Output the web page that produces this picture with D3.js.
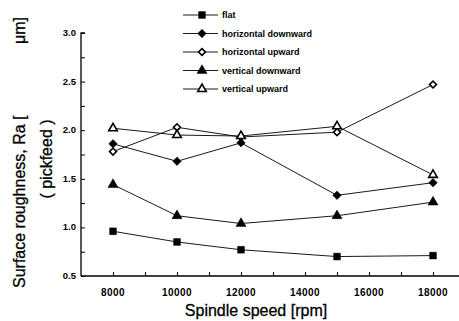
<!DOCTYPE html>
<html>
<head>
<meta charset="utf-8">
<script src="https://cdn.jsdelivr.net/npm/d3@7"></script>
<style>
  body { margin: 0; background: #fff; }
  svg { display: block; font-family: "Liberation Sans", Arial, sans-serif; }
</style>
</head>
<body>
<svg id="chart" width="459" height="321"></svg>
<script>
// spindle speeds (rpm)
const speeds = [8000, 10000, 12000, 15000, 18000];
const xTicks = [8000, 10000, 12000, 14000, 16000, 18000];
const yTicks = [0.5, 1.0, 1.5, 2.0, 2.5, 3.0];

// surface roughness Ra per tool path
const seriesNames = ['flat', 'horizontal downward', 'horizontal upward', 'vertical downward', 'vertical upward'];
const flat = [0.96, 0.85, 0.77, 0.70, 0.71];
const horizDown = [1.86, 1.68, 1.87, 1.33, 1.46];
const horizUp = [1.78, 2.03, 1.93, 1.98, 2.47];
const vertDown = [1.44, 1.12, 1.04, 1.12, 1.26];
const vertUp = [2.02, 1.95, 1.94, 2.04, 1.54];
const seriesValues = [flat, horizDown, horizUp, vertDown, vertUp];

const svg = d3.select('#chart');

// plot area
const plotLeft = 81, plotTop = 33, plotBottom = 276;
const x = d3.scaleLinear().domain([7000, 19000]).range([plotLeft, plotLeft + 384]);
const y = d3.scaleLinear().domain([0.5, 3.0]).range([plotBottom, plotTop]);

// marker styles per series (rot = rotate square into a diamond)
const markers = [
  { type: d3.symbolSquare, size: 46, fill: '#000', rot: 0 },
  { type: d3.symbolSquare, size: 36, fill: '#000', rot: 45 },
  { type: d3.symbolSquare, size: 24, fill: '#fff', rot: 45 },
  { type: d3.symbolTriangle, size: 44, fill: '#000', rot: 0 },
  { type: d3.symbolTriangle, size: 32, fill: '#fff', rot: 0 }
];

// y axis, ticks inside
const yAxis = d3.axisRight(y)
  .tickValues(d3.range(0.5, 3.01, 0.25))
  .tickSize(4)
  .tickFormat('');
const gy = svg.append('g').attr('transform', `translate(${plotLeft},0)`).call(yAxis);
gy.select('.domain').attr('d', `M4,${plotTop}H0V${plotBottom}`).attr('stroke-width', 1.3);
gy.selectAll('.tick line').attr('stroke-width', 1);

svg.append('g').selectAll('text')
  .data(yTicks)
  .join('text')
  .attr('x', plotLeft - 5)
  .attr('y', d => y(d) + 3)
  .attr('text-anchor', 'end')
  .attr('font-size', 9.5)
  .attr('font-weight', 'bold')
  .text(d => d.toFixed(1));

// x axis, ticks inside
const xAxis = d3.axisTop(x)
  .tickValues(d3.range(8000, 18001, 1000))
  .tickSize(4)
  .tickFormat('');
const gx = svg.append('g').attr('transform', `translate(0,${plotBottom})`).call(xAxis);
gx.select('.domain').attr('d', `M${plotLeft},0H459`).attr('stroke-width', 1.3);

svg.append('g').selectAll('text')
  .data(xTicks)
  .join('text')
  .attr('x', d => x(d))
  .attr('y', plotBottom + 20)
  .attr('text-anchor', 'middle')
  .attr('font-size', 10)
  .attr('font-weight', 'bold')
  .attr('letter-spacing', 0.4)
  .text(d => d);

// axis titles
svg.append('text')
  .attr('x', 256)
  .attr('y', 316)
  .attr('text-anchor', 'middle')
  .attr('font-size', 16)
  .attr('stroke', '#000')
  .attr('stroke-width', 0.3)
  .text('Spindle speed [rpm]');

const yTitle = svg.append('g').attr('font-size', 16).attr('stroke', '#000').attr('stroke-width', 0.3);
yTitle.append('text')
  .attr('transform', 'translate(25,288) rotate(-90)')
  .text('Surface roughness, Ra [');
yTitle.append('text')
  .attr('transform', 'translate(25,44) rotate(-90)')
  .text('μm]');
yTitle.append('text')
  .attr('transform', 'translate(52,159) rotate(-90)')
  .attr('text-anchor', 'middle')
  .text('( pickfeed )');

// series lines and markers
const line = d3.line().x((d, i) => x(speeds[i])).y(d => y(d));

seriesValues.forEach(vals => {
  svg.append('path')
    .attr('d', line(vals))
    .attr('fill', 'none')
    .attr('stroke', '#000')
    .attr('stroke-width', 0.9);
});
seriesValues.forEach((vals, s) => {
  const m = markers[s];
  svg.append('g').selectAll('path')
    .data(vals)
    .join('path')
    .attr('transform', (d, i) => `translate(${x(speeds[i])},${y(d)}) rotate(${m.rot})`)
    .attr('d', d3.symbol().type(m.type).size(m.size))
    .attr('fill', m.fill)
    .attr('stroke', '#000')
    .attr('stroke-width', m.fill === '#fff' ? 1.6 : 0.5);
});

// legend
const legend = svg.append('g');
seriesNames.forEach((name, s) => {
  const ly = 15 + s * 18.5;
  const m = markers[s];
  legend.append('line')
    .attr('x1', 183).attr('x2', 218)
    .attr('y1', ly).attr('y2', ly)
    .attr('stroke', '#000').attr('stroke-width', 0.9);
  legend.append('path')
    .attr('transform', `translate(202,${ly}) rotate(${m.rot})`)
    .attr('d', d3.symbol().type(m.type).size(m.size))
    .attr('fill', m.fill)
    .attr('stroke', '#000')
    .attr('stroke-width', m.fill === '#fff' ? 1.6 : 0.5);
  legend.append('text')
    .attr('x', 222)
    .attr('y', ly + 3)
    .attr('font-size', 9)
    .attr('font-weight', 'bold')
    .text(name);
});
</script>
</body>
</html>
